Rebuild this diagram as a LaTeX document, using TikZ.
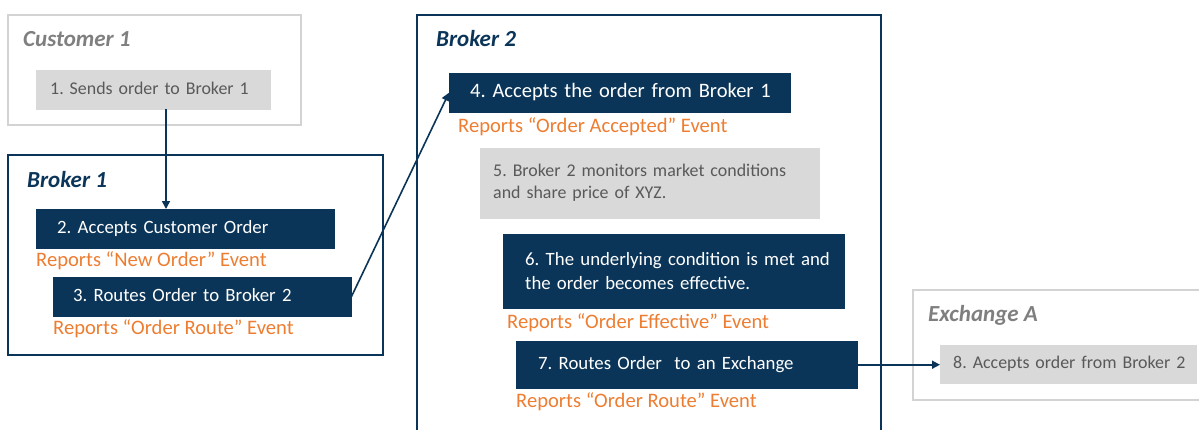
\documentclass[tikz,border=0pt]{standalone}
\usepackage{fontspec}
\setmainfont{Carlito}
\usetikzlibrary{arrows.meta}
\definecolor{navy}{HTML}{0B3558}
\definecolor{evorange}{HTML}{ED7D31}
\definecolor{boxgray}{HTML}{D9D9D9}
\definecolor{textgray}{HTML}{595959}
\definecolor{titlegray}{HTML}{7F7F7F}
\definecolor{framegray}{HTML}{D3D3D3}
\newcommand{\bodyfont}{\fontsize{18.8}{24}\selectfont\frenchspacing}
\newcommand{\graybodyfont}{\fontsize{17.9}{22}\selectfont\frenchspacing}
\newcommand{\bigbodyfont}{\fontsize{20.5}{24}\selectfont\frenchspacing}
\newcommand{\evfont}{\fontsize{20.6}{24}\selectfont\frenchspacing}
\newcommand{\titlefont}{\fontsize{23}{24}\selectfont\bfseries\itshape}
\tikzset{
  x=1pt, y=-1pt,
  stepbox/.style={anchor=north west, inner ysep=0pt, align=left, font=\bodyfont},
  oneline/.style={text height=13pt, text depth=4pt},
  navybox/.style={stepbox, fill=navy, draw=navy, text=white},
  graybox/.style={stepbox, fill=boxgray, draw=boxgray, text=textgray, font=\graybodyfont},
  evtext/.style={anchor=base west, inner sep=0pt, text=evorange, font=\evfont},
  grptitle/.style={anchor=base west, inner sep=0pt, font=\titlefont},
  grayframe/.style={draw=framegray, line width=2pt},
  navyframe/.style={draw=navy, line width=2pt},
  conn/.style={draw=navy, line width=1.6pt, -{Triangle[length=8pt,width=8pt]}},
}
\begin{document}
\begin{tikzpicture}
\useasboundingbox (0,0) rectangle (1199,429);
% frames
\draw[grayframe] (8,15) rectangle (301,125);
\draw[navyframe] (8,155) rectangle (383,355);
\draw[navyframe] (417,440) -- (417,15) -- (881,15) -- (881,440);
\draw[grayframe] (913,290) rectangle (1205,400);
% titles
\node[grptitle, text=titlegray] (t1) at (23,46) {Customer 1};
\node[grptitle, text=navy] (t2) at (27,187) {Broker 1};
\node[grptitle, text=navy] (t3) at (436,46) {Broker 2};
\node[grptitle, text=titlegray] (t4) at (928,321) {Exchange A};
% boxes
\node[graybox, oneline, minimum height=39pt, inner xsep=14pt, text width=206pt] (b1) at (36,70) {\mbox{1. Sends order to Broker 1}};
\node[navybox, oneline, minimum height=39pt, inner xsep=21pt, text width=256pt] (b2) at (36,209) {\mbox{2. Accepts Customer Order}};
\node[evtext] (e2) at (36,266) {Reports “New Order” Event};
\node[navybox, oneline, minimum height=39pt, inner xsep=20pt, text width=258pt] (b3) at (53,277) {\mbox{3. Routes Order to Broker 2}};
\node[evtext] (e3) at (53,334) {Reports “Order Route” Event};
\node[navybox, oneline, minimum height=39pt, inner xsep=21pt, text width=299pt, font=\bigbodyfont] (b4) at (449,73) {\mbox{4. Accepts the order from Broker 1}};
\node[evtext] (e4) at (458,132) {Reports “Order Accepted” Event};
\node[graybox, minimum height=70pt, inner xsep=13pt, text width=313pt] (b5) at (480,148) {\mbox{5. Broker 2 monitors market conditions}\\\mbox{and share price of XYZ.}};
\node[navybox, minimum height=74pt, inner xsep=22pt, text width=297pt] (b6) at (503,234) {\mbox{6. The underlying condition is met and}\\\mbox{the order becomes effective.}};
\node[evtext] (e6) at (507,328) {Reports “Order Effective” Event};
\node[navybox, oneline, minimum height=47pt, inner xsep=22pt, text width=297pt] (b7) at (516,341) {\mbox{7. Routes Order\ \ to an Exchange}};
\node[evtext] (e7) at (516,407) {Reports “Order Route” Event};
\node[graybox, oneline, minimum height=38pt, inner xsep=13pt, text width=230pt] (b8) at (940,345) {\mbox{8. Accepts order from Broker 2}};
% connectors
\coordinate (ax) at (166,0);
\draw[conn] (b1.south -| ax) -- (b2.north -| ax);
\draw[conn] (b3.east) -- (b4.west);
\draw[conn] (b7.east) -- (b7.east -| b8.west);
\end{tikzpicture}
\end{document}
